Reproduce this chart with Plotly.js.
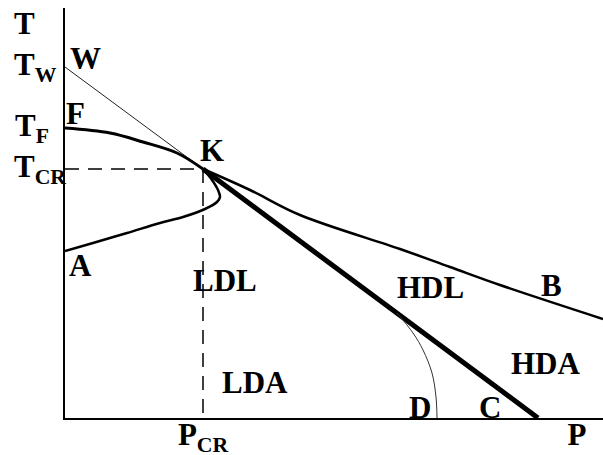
<!DOCTYPE html>
<html>
<head>
<meta charset="utf-8">
<script src="https://cdn.plot.ly/plotly-3.0.1.min.js"></script>
<style>
  html, body { margin: 0; padding: 0; background: #fff; }
  #chart { width: 603px; height: 455px; }
</style>
</head>
<body>
<div id="chart"></div>
<script>
// schematic T-P phase diagram, arbitrary units

// characteristic points
const tW = 351, tF = 290, tCR = 249, tA = 167;
const pCR = 138, pC = 473;

// F -> K
const fkP = [0, 45, 78, 112, pCR];
const fkT = [tF, 285, 276, 265, tCR];

// K -> B
const kbP = [pCR, 185, 235, 335, 385, 435, 538];
const kbT = [tCR, 228, 203, 169, 151, 133, 99];

// A -> K (bends back past P_CR)
const akP = [0, 28, 62, 95, 118, 140, 152, 155, 153, 147, pCR];
const akT = [tA, 175, 185, 195, 201, 209, 216, 221, 228, 238, tCR];

// W -> K (thin) and K -> C (thick)
const wkP = [0, pCR], wkT = [tW, tCR];
const kcP = [pCR, pC], kcT = [tCR, 0];

// D curve
const dP = [332, 348, 358, 367, 371, 372];
const dT = [105, 85, 68, 45, 21, 0];

// axis tick labels
const xTickVals = [pCR, 512];
const xTickText = ['P<sub>CR</sub>', 'P'];

const serif = '"Liberation Serif", "Times New Roman", serif';

function line(x, y, width, color, dash, shape) {
    return {
        x: x, y: y,
        mode: 'lines',
        type: 'scatter',
        hoverinfo: 'skip',
        line: {color: color || 'black', width: width, dash: dash || 'solid', shape: shape || 'linear', smoothing: 1}
    };
}

const traces = [
    line([0, pCR], [tCR, tCR], 1.5, 'black', '14px,9px'),
    line([pCR, pCR], [tCR, 0], 1.5, 'black', '14px,9px'),
    line(wkP, wkT, 1, '#222'),
    line(fkP, fkT, 3, 'black', 'solid', 'spline'),
    line(kbP, kbT, 2.5, 'black', 'solid', 'spline'),
    line(akP, akT, 2.5, 'black', 'solid', 'spline'),
    line(kcP, kcT, 5, 'black'),
    line(dP, dT, 1, '#333', 'solid', 'spline')
];

function label(text, x, y, opts) {
    return Object.assign({
        text: text, x: x, y: y, xref: 'x', yref: 'y',
        showarrow: false,
        font: {family: serif, size: 31, color: 'black', weight: 'bold'}
    }, opts || {});
}

// y-axis labels sit left of the plot, so x is in paper units
const annotations = [
    label('T', -0.099, 395, {xref: 'paper', xanchor: 'left'}),
    label('T<sub>W</sub>', -0.099, tW, {xref: 'paper', xanchor: 'left'}),
    label('T<sub>F</sub>', -0.097, tF, {xref: 'paper', xanchor: 'left'}),
    label('T<sub>CR</sub>', -0.099, tCR, {xref: 'paper', xanchor: 'left'}),
    label('W', 20, 360),
    label('F', 10, 305),
    label('K', 147, 268),
    label('A', 15, 153),
    label('LDL', 160, 138),
    label('LDA', 190, 36),
    label('HDL', 365, 131),
    label('B', 486, 133),
    label('HDA', 481, 55),
    label('D', 355, 11),
    label('C', 425, 11)
];

const layout = {
    width: 603,
    height: 455,
    margin: {l: 65, r: 0, t: 8, b: 37},
    paper_bgcolor: 'white',
    plot_bgcolor: 'white',
    showlegend: false,
    xaxis: {
        range: [0, 538],
        showgrid: false, zeroline: false,
        showline: true, linecolor: 'black', linewidth: 2,
        ticks: '',
        tickvals: xTickVals,
        ticktext: xTickText,
        ticklabelstandoff: -12,
        tickfont: {family: serif, size: 31, color: 'black', weight: 'bold'}
    },
    yaxis: {
        range: [0, 410],
        showgrid: false, zeroline: false,
        showline: true, linecolor: 'black', linewidth: 2,
        ticks: '',
        showticklabels: false
    },
    annotations: annotations
};

Plotly.newPlot('chart', traces, layout, {displayModeBar: false, staticPlot: true});
</script>
</body>
</html>
